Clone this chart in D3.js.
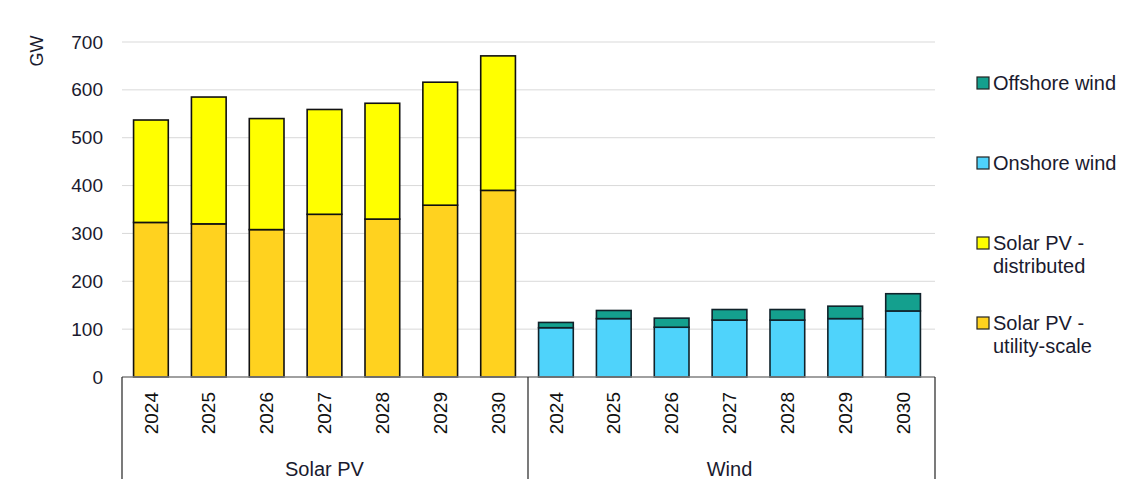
<!DOCTYPE html>
<html><head><meta charset="utf-8">
<script src="https://cdn.jsdelivr.net/npm/d3@7"></script>
<style>body{margin:0;background:#fff}svg{font-family:"Liberation Sans",Arial,sans-serif}</style>
</head><body><svg id="c" width="1126" height="499"></svg>
<script>
const years = ["2024","2025","2026","2027","2028","2029","2030"];
const groups = ["Solar PV","Wind"];
const solarUtility = [323,320,308,340,330,359,390];
const solarDistributed = [214,265,232,219,242,257,281];
const onshoreWind = [103,122,104,119,119,122,138];
const offshoreWind = [11,17,19,22,22,26,36];
const yTicks = [0,100,200,300,400,500,600,700];
const legendItems = [
  {name:["Offshore wind"], color:"#14a08e"},
  {name:["Onshore wind"], color:"#4fd3fb"},
  {name:["Solar PV -","distributed"], color:"#ffff00"},
  {name:["Solar PV -","utility-scale"], color:"#ffd21f"}
];

const svg = d3.select("#c");
const x0 = 122, x1 = 932, yTop = 42, yBot = 377;
const keys = [];
groups.forEach(g => years.forEach(y => keys.push(g+"|"+y)));
const x = d3.scaleBand().domain(keys).range([x0,x1]).paddingInner(0.4).paddingOuter(0.2);
const y = d3.scaleLinear().domain([0,700]).range([yBot,yTop]);

// gridlines
svg.append("g").selectAll("line").data(yTicks.filter(t=>t>0)).join("line")
  .attr("x1",x0).attr("x2",935).attr("y1",d=>y(d)).attr("y2",d=>y(d))
  .attr("stroke","#d9d9d9").attr("stroke-width",1);

// y axis labels
const yAxis = d3.axisLeft(y).tickValues(yTicks).tickSize(0).tickPadding(0);
const ya = svg.append("g").attr("transform","translate(103,0)").call(yAxis);
ya.select(".domain").remove();
ya.selectAll("text").attr("font-size",19).attr("fill","#1a1a2e").attr("font-family","Liberation Sans, Arial, sans-serif");

svg.append("text").attr("transform","translate(37,51) rotate(-90)")
  .attr("text-anchor","middle").attr("dy","0.35em").attr("font-size",18).attr("fill","#1a1a2e").text("GW");

// build stacked data
const rows = [];
years.forEach((yr,i)=>{
  rows.push({key:"Solar PV|"+yr, segs:[{v0:0,v1:solarUtility[i],c:legendItems[3].color},{v0:solarUtility[i],v1:solarUtility[i]+solarDistributed[i],c:legendItems[2].color}], stroke:"#111"});
});
years.forEach((yr,i)=>{
  rows.push({key:"Wind|"+yr, segs:[{v0:0,v1:onshoreWind[i],c:legendItems[1].color},{v0:onshoreWind[i],v1:onshoreWind[i]+offshoreWind[i],c:legendItems[0].color}], stroke:"#10222a"});
});
const bars = svg.append("g");
rows.forEach(r=>{
  r.segs.forEach(s=>{
    bars.append("rect").attr("x",x(r.key)).attr("width",x.bandwidth())
      .attr("y",y(s.v1)).attr("height",y(s.v0)-y(s.v1))
      .attr("fill",s.c).attr("stroke",r.stroke).attr("stroke-width",1.6);
  });
});

// x axis line
svg.append("line").attr("x1",x0).attr("x2",935).attr("y1",yBot).attr("y2",yBot).attr("stroke","#808080").attr("stroke-width",1.3);
// separators
[x0, (x0+x1)/2+1, 935].forEach(sx=>{
  svg.append("line").attr("x1",sx).attr("x2",sx).attr("y1",yBot).attr("y2",479).attr("stroke","#222").attr("stroke-width",1.2);
});
// year labels
svg.append("g").selectAll("text").data(keys).join("text")
  .attr("transform",d=>`translate(${x(d)+x.bandwidth()/2},392) rotate(-90)`)
  .attr("text-anchor","end").attr("dy","0.35em").attr("font-size",19).attr("fill","#111")
  .text(d=>d.split("|")[1]);
// group labels
groups.forEach(g=>{
  const a = x(g+"|"+years[0]), b = x(g+"|"+years[years.length-1])+x.bandwidth();
  svg.append("text").attr("x",(a+b)/2).attr("y",476).attr("text-anchor","middle")
    .attr("font-size",20).attr("fill","#1a1a2e").text(g);
});

// legend
const ly = [83,163,243,323];
legendItems.forEach((it,i)=>{
  svg.append("rect").attr("x",977).attr("y",ly[i]-6).attr("width",12).attr("height",12)
    .attr("fill",it.color).attr("stroke","#222").attr("stroke-width",1.2);
  it.name.forEach((t,j)=>{
    svg.append("text").attr("x",993).attr("y",ly[i]+j*23).attr("dy","0.35em")
      .attr("font-size",20).attr("fill","#1a1a2e").text(t);
  });
});
</script></body></html>
